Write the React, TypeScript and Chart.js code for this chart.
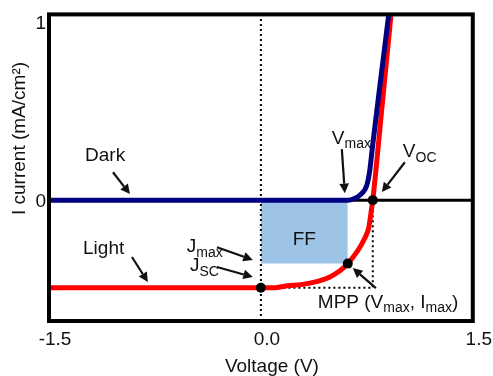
import React, { useEffect, useRef } from 'react';
import { Chart, registerables } from 'chart.js';

Chart.register(...registerables);

// ---- data ----
const xTicks = [-1.5, 0, 1.5];
const xTickLabels = ['-1.5', '0.0', '1.5'];
const yTicks = [0, 1];
const yTickLabels = ['0', '1'];
const xRange = [-1.5, 1.5];
const yRange = [-0.676, 1.039];

const darkV = [-1.5, 0.3, 0.58, 0.616, 0.658, 0.7, 0.75, 0.771, 0.787, 0.836, 0.91];
const darkJ = [0, 0, 0, 0, 0.008, 0.028, 0.084, 0.168, 0.279, 0.6, 1.07];

const lightV = [-1.5, 0.1, 0.156, 0.347, 0.488, 0.615, 0.736, 0.764, 0.785, 0.792, 0.857, 0.925];
const lightJ = [-0.49, -0.49, -0.483, -0.464, -0.43, -0.355, -0.212, -0.151, -0.039, 0, 0.52, 1.07];

const Voc = 0.792;
const Jsc = -0.49;
const Vmax = 0.615;
const Jmax = -0.355;

// annotation arrows [x1, y1, x2, y2] in data units (head at second point)
const arrows = [
  [-1.047, 0.156, -0.927, 0.034],
  [-0.913, -0.318, -0.8, -0.458],
  [-0.311, -0.263, -0.057, -0.335],
  [-0.311, -0.374, -0.057, -0.43],
  [0.573, 0.285, 0.594, 0.039],
  [1.019, 0.212, 0.856, 0.045],
  [0.814, -0.492, 0.651, -0.38],
];

type Part = { t: string; sub?: boolean };
const labels: { x: number; y: number; parts: Part[]; center?: boolean }[] = [
  { x: -1.245, y: 0.218, parts: [{ t: 'Dark' }] },
  { x: -1.259, y: -0.302, parts: [{ t: 'Light' }] },
  { x: -0.524, y: -0.291, parts: [{ t: 'J' }, { t: 'max', sub: true }] },
  { x: -0.502, y: -0.399, parts: [{ t: 'J' }, { t: 'SC', sub: true }] },
  { x: 0.502, y: 0.315, parts: [{ t: 'V' }, { t: 'max', sub: true }] },
  { x: 1.005, y: 0.24, parts: [{ t: 'V' }, { t: 'OC', sub: true }] },
  {
    x: 0.403,
    y: -0.603,
    parts: [{ t: 'MPP (V' }, { t: 'max', sub: true }, { t: ', I' }, { t: 'max', sub: true }, { t: ')' }],
  },
  { x: Vmax / 2, y: -0.251, parts: [{ t: 'FF' }], center: true },
];

const xTitle = 'Voltage (V)';
const yTitle = 'I current (mA/cm²)';

const FONT = '"Liberation Sans", Arial, sans-serif';

function toPts(xs: number[], ys: number[]) {
  return xs.map((x, i) => ({ x, y: ys[i] }));
}

function drawArrow(ctx: CanvasRenderingContext2D, x1: number, y1: number, x2: number, y2: number) {
  const ang = Math.atan2(y2 - y1, x2 - x1);
  const head = 9.5;
  const hw = 4.8;
  const bx = x2 - head * Math.cos(ang);
  const by = y2 - head * Math.sin(ang);
  ctx.beginPath();
  ctx.moveTo(x1, y1);
  ctx.lineTo(bx, by);
  ctx.lineWidth = 2.2;
  ctx.stroke();
  ctx.beginPath();
  ctx.moveTo(x2, y2);
  ctx.lineTo(bx + hw * Math.sin(ang), by - hw * Math.cos(ang));
  ctx.lineTo(bx - hw * Math.sin(ang), by + hw * Math.cos(ang));
  ctx.closePath();
  ctx.fill();
}

const framePlugin = {
  id: 'frame',
  afterDatasetsDraw(chart: any) {
    const { ctx, chartArea } = chart;
    ctx.save();
    ctx.strokeStyle = '#000';
    ctx.lineWidth = 4;
    ctx.strokeRect(chartArea.left, chartArea.top, chartArea.right - chartArea.left, chartArea.bottom - chartArea.top);
    ctx.restore();
  },
};

const annotPlugin = {
  id: 'annot',
  afterDraw(chart: any) {
    const { ctx, chartArea } = chart;
    const xs = chart.scales.x;
    const ys = chart.scales.y;
    ctx.save();
    ctx.fillStyle = '#111';
    ctx.strokeStyle = '#111';
    for (const a of arrows) {
      drawArrow(ctx, xs.getPixelForValue(a[0]), ys.getPixelForValue(a[1]), xs.getPixelForValue(a[2]), ys.getPixelForValue(a[3]));
    }
    ctx.textBaseline = 'alphabetic';
    ctx.textAlign = 'left';
    const normal = `19px ${FONT}`;
    const small = `14px ${FONT}`;
    for (const l of labels) {
      let total = 0;
      for (const p of l.parts) {
        ctx.font = p.sub ? small : normal;
        total += ctx.measureText(p.t).width;
      }
      let px = xs.getPixelForValue(l.x);
      const py = ys.getPixelForValue(l.y);
      if (l.center) px -= total / 2;
      for (const p of l.parts) {
        ctx.font = p.sub ? small : normal;
        ctx.fillText(p.t, px, p.sub ? py + 4.5 : py);
        px += ctx.measureText(p.t).width;
      }
    }
    // axis titles
    ctx.fillStyle = '#111';
    ctx.font = normal;
    ctx.textAlign = 'center';
    ctx.fillText(xTitle, (chartArea.left + chartArea.right) / 2 + 11, chartArea.bottom + 50.5);
    ctx.save();
    ctx.translate(chartArea.left - 24, chartArea.bottom - 106);
    ctx.rotate(-Math.PI / 2);
    ctx.textAlign = 'left';
    ctx.fillText(yTitle, 0, 0);
    ctx.restore();
    ctx.restore();
  },
};

export default function App() {
  const ref = useRef<HTMLCanvasElement | null>(null);
  useEffect(() => {
    if (!ref.current) return;
    const chart = new Chart(ref.current, {
      type: 'scatter',
      data: {
        datasets: [
          {
            label: 'points',
            data: [
              { x: 0, y: Jsc },
              { x: Vmax, y: Jmax },
              { x: Voc, y: 0 },
            ],
            pointRadius: 5,
            pointBackgroundColor: '#000',
            pointBorderColor: '#000',
            pointBorderWidth: 0,
            showLine: false,
            order: 0,
          },
          {
            label: 'Dark',
            data: toPts(darkV, darkJ),
            borderColor: '#000080',
            borderWidth: 5,
            pointRadius: 0,
            showLine: true,
            cubicInterpolationMode: 'monotone',
            order: 1,
          },
          {
            label: 'Light',
            data: toPts(lightV, lightJ),
            borderColor: '#FF0000',
            borderWidth: 5,
            pointRadius: 0,
            showLine: true,
            cubicInterpolationMode: 'monotone',
            order: 2,
          },
          {
            label: 'zero',
            data: [
              { x: xRange[0], y: 0 },
              { x: xRange[1], y: 0 },
            ],
            borderColor: '#000',
            borderWidth: 3,
            pointRadius: 0,
            showLine: true,
            order: 3,
          },
          {
            label: 'dot0',
            data: [
              { x: 0, y: yRange[0] },
              { x: 0, y: yRange[1] },
            ],
            borderColor: '#000',
            borderWidth: 2,
            borderDash: [2, 3],
            pointRadius: 0,
            showLine: true,
            order: 4,
          },
          {
            label: 'dotVoc',
            data: [
              { x: Voc, y: 0 },
              { x: Voc, y: Jsc },
              { x: 0, y: Jsc },
            ],
            borderColor: '#000',
            borderWidth: 2,
            borderDash: [2, 3],
            pointRadius: 0,
            showLine: true,
            order: 4,
          },
          {
            label: 'FF',
            data: [
              { x: 0, y: Jmax },
              { x: Vmax, y: Jmax },
            ],
            borderWidth: 0,
            borderColor: 'rgba(0,0,0,0)',
            backgroundColor: '#9DC3E6',
            fill: 'origin',
            pointRadius: 0,
            showLine: true,
            order: 5,
          },
        ],
      },
      options: {
        responsive: false,
        animation: false,
        layout: { padding: { left: 0, top: 14, right: 20, bottom: 0 } },
        plugins: { legend: { display: false }, tooltip: { enabled: false } },
        scales: {
          x: {
            type: 'linear',
            min: xRange[0],
            max: xRange[1],
            grid: { display: false, drawTicks: false },
            border: { display: false },
            afterBuildTicks: (s: any) => {
              s.ticks = xTicks.map((v) => ({ value: v }));
            },
            afterFit: (s: any) => {
              s.height = 55;
            },
            ticks: {
              padding: 7,
              labelOffset: 6,
              maxRotation: 0,
              color: '#111',
              font: { family: FONT, size: 19 },
              callback: (v: any) => {
                const i = xTicks.indexOf(Number(v));
                return i >= 0 ? xTickLabels[i] : '';
              },
            },
          },
          y: {
            type: 'linear',
            min: yRange[0],
            max: yRange[1],
            grid: { display: false, drawTicks: false },
            border: { display: false },
            afterBuildTicks: (s: any) => {
              s.ticks = yTicks.map((v) => ({ value: v }));
            },
            afterFit: (s: any) => {
              s.width = 49;
            },
            ticks: {
              padding: 3,
              labelOffset: 2,
              color: '#111',
              font: { family: FONT, size: 19 },
              callback: (v: any) => {
                const i = yTicks.indexOf(Number(v));
                return i >= 0 ? yTickLabels[i] : '';
              },
            },
          },
        },
      },
      plugins: [framePlugin, annotPlugin],
    } as any);
    return () => chart.destroy();
  }, []);
  return (
    <div style={{ position: 'fixed', left: 0, top: 0, width: 493, height: 376, background: '#fff' }}>
      <canvas ref={ref} width={493} height={376} style={{ display: 'block' }} />
    </div>
  );
}
